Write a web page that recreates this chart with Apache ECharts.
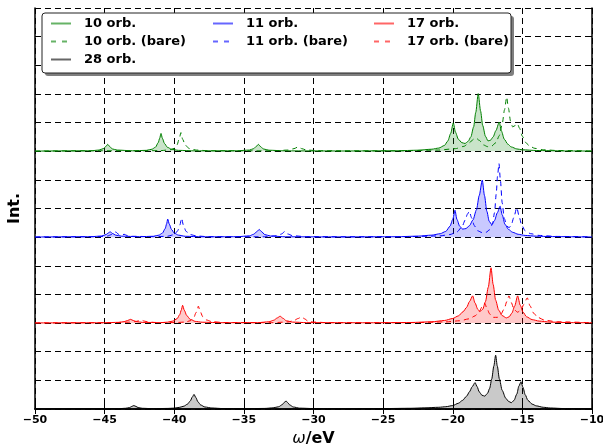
<!DOCTYPE html>
<html>
<head>
<meta charset="utf-8">
<script src="https://cdn.jsdelivr.net/npm/echarts@6/dist/echarts.min.js"></script>
<style>
  html, body { margin: 0; padding: 0; background: #fff; }
  #chart { width: 603px; height: 444px; }
</style>
</head>
<body>
<div id="chart"></div>
<script>
// Energy axis ticks (eV)
const xTicks = [-50, -45, -40, -35, -30, -25, -20, -15, -10];

// Vertical offsets of the stacked spectra
const offset10 = 9;
const offset11 = 6;
const offset17 = 3;
const offset28 = 0;

// 10-orbital model, [omega, intensity]
const orb10 = [
  [-50, 0.005], [-46, 0.015], [-45.4, 0.04], [-45.1, 0.09], [-44.9, 0.17], [-44.78, 0.24], [-44.65, 0.17],
  [-44.45, 0.08], [-44.1, 0.04], [-43, 0.015], [-42, 0.03], [-41.6, 0.07], [-41.35, 0.14], [-41.15, 0.3],
  [-41.05, 0.45], [-40.95, 0.62], [-40.85, 0.45], [-40.7, 0.27], [-40.5, 0.14], [-40.2, 0.07], [-39.7, 0.03],
  [-38.5, 0.012], [-35.5, 0.015], [-34.6, 0.04], [-34.3, 0.09], [-34.1, 0.17], [-33.96, 0.24], [-33.82, 0.17],
  [-33.6, 0.08], [-33.2, 0.035], [-32, 0.012], [-28, 0.008], [-24, 0.015], [-22.5, 0.035], [-21.5, 0.07],
  [-21, 0.11], [-20.6, 0.2], [-20.35, 0.36], [-20.15, 0.62], [-19.96, 0.99], [-19.8, 0.66], [-19.6, 0.42],
  [-19.35, 0.3], [-19.12, 0.27], [-18.9, 0.34], [-18.7, 0.5], [-18.5, 0.85], [-18.35, 1.35], [-18.17, 2.01],
  [-18.0, 1.4], [-17.85, 0.9], [-17.65, 0.52], [-17.47, 0.36], [-17.3, 0.38], [-17.1, 0.5], [-16.9, 0.72],
  [-16.66, 1.02], [-16.5, 0.7], [-16.3, 0.42], [-16.05, 0.25], [-15.8, 0.15], [-15.4, 0.08], [-15, 0.05],
  [-14, 0.025], [-12, 0.01], [-10, 0.005]
];
const orb10Bare = [
  [-50, 0.005], [-45.5, 0.015], [-43, 0.015], [-41, 0.02], [-40.3, 0.05], [-40.0, 0.1], [-39.8, 0.22],
  [-39.65, 0.42], [-39.52, 0.65], [-39.4, 0.42], [-39.2, 0.2], [-38.9, 0.09], [-38.4, 0.04], [-37.5, 0.015],
  [-33, 0.012], [-31.8, 0.04], [-31.4, 0.09], [-31.1, 0.15], [-30.85, 0.09], [-30.5, 0.04], [-29.5, 0.015],
  [-24, 0.012], [-21, 0.04], [-19.8, 0.09], [-19.2, 0.17], [-18.8, 0.3], [-18.5, 0.42], [-18.3, 0.45],
  [-18.1, 0.38], [-17.8, 0.22], [-17.5, 0.16], [-17.2, 0.18], [-16.9, 0.3], [-16.65, 0.55], [-16.45, 0.95],
  [-16.28, 1.45], [-16.13, 1.89], [-16.0, 1.5], [-15.85, 1.05], [-15.7, 0.85], [-15.5, 0.9], [-15.35, 0.95],
  [-15.2, 0.8], [-15.0, 0.52], [-14.75, 0.3], [-14.5, 0.18], [-14.1, 0.1], [-13.5, 0.05], [-12.5, 0.025],
  [-10, 0.008]
];

// 11-orbital model
const orb11 = [
  [-50, 0.005], [-46, 0.015], [-45.2, 0.04], [-44.9, 0.09], [-44.72, 0.15], [-44.6, 0.19], [-44.45, 0.13],
  [-44.2, 0.07], [-43.8, 0.035], [-42.5, 0.015], [-41.5, 0.03], [-41.1, 0.07], [-40.85, 0.14], [-40.65, 0.3],
  [-40.55, 0.46], [-40.47, 0.63], [-40.35, 0.45], [-40.2, 0.27], [-40.0, 0.14], [-39.7, 0.07], [-39.2, 0.03],
  [-38, 0.012], [-35.5, 0.015], [-34.6, 0.045], [-34.3, 0.1], [-34.05, 0.2], [-33.9, 0.27], [-33.75, 0.2],
  [-33.5, 0.09], [-33.1, 0.04], [-32, 0.012], [-28, 0.008], [-24, 0.015], [-22.5, 0.035], [-21.5, 0.07],
  [-20.9, 0.12], [-20.5, 0.2], [-20.2, 0.38], [-20.0, 0.62], [-19.84, 0.94], [-19.7, 0.62], [-19.5, 0.38],
  [-19.29, 0.28], [-19.05, 0.3], [-18.8, 0.4], [-18.55, 0.6], [-18.3, 0.95], [-18.1, 1.45], [-17.88, 1.99],
  [-17.72, 1.45], [-17.55, 0.9], [-17.38, 0.55], [-17.2, 0.44], [-17.0, 0.58], [-16.8, 0.85], [-16.6, 1.08],
  [-16.45, 0.78], [-16.25, 0.45], [-16.0, 0.27], [-15.7, 0.17], [-15.3, 0.1], [-14.8, 0.06], [-14, 0.035],
  [-13, 0.02], [-10, 0.005]
];
const orb11Bare = [
  [-50, 0.005], [-45.5, 0.015], [-44.8, 0.04], [-44.45, 0.1], [-44.2, 0.18], [-44.0, 0.1], [-43.8, 0.07],
  [-43.6, 0.1], [-43.4, 0.06], [-43.0, 0.03], [-41.5, 0.015], [-40.5, 0.03], [-40.0, 0.09], [-39.75, 0.22],
  [-39.6, 0.42], [-39.47, 0.66], [-39.35, 0.43], [-39.15, 0.2], [-38.85, 0.09], [-38.4, 0.04], [-37.5, 0.015],
  [-33.5, 0.012], [-32.6, 0.05], [-32.3, 0.11], [-32.05, 0.2], [-31.85, 0.11], [-31.5, 0.05], [-30.5, 0.015],
  [-24, 0.012], [-21, 0.04], [-20.2, 0.09], [-19.7, 0.18], [-19.35, 0.35], [-19.1, 0.6], [-18.95, 0.8],
  [-18.81, 0.9], [-18.65, 0.68], [-18.45, 0.4], [-18.2, 0.22], [-17.9, 0.16], [-17.6, 0.17], [-17.35, 0.26],
  [-17.15, 0.45], [-17.0, 0.85], [-16.88, 1.5], [-16.78, 2.15], [-16.68, 2.57], [-16.58, 2.0], [-16.45, 1.2],
  [-16.3, 0.65], [-16.1, 0.38], [-15.95, 0.33], [-15.8, 0.42], [-15.62, 0.68], [-15.4, 1.03], [-15.22, 0.7],
  [-15.05, 0.42], [-14.8, 0.22], [-14.4, 0.12], [-13.8, 0.06], [-12.5, 0.025], [-10, 0.008]
];

// 17-orbital model
const orb17 = [
  [-50, 0.005], [-45, 0.012], [-44, 0.025], [-43.6, 0.05], [-43.35, 0.09], [-43.13, 0.13], [-42.95, 0.09],
  [-42.7, 0.05], [-42.3, 0.025], [-41, 0.015], [-40.5, 0.03], [-40.1, 0.07], [-39.8, 0.15], [-39.6, 0.3],
  [-39.5, 0.45], [-39.4, 0.62], [-39.28, 0.45], [-39.1, 0.26], [-38.85, 0.13], [-38.5, 0.06], [-38, 0.03],
  [-36.5, 0.012], [-34, 0.015], [-33.2, 0.045], [-32.85, 0.1], [-32.6, 0.18], [-32.4, 0.24], [-32.2, 0.17],
  [-31.95, 0.08], [-31.5, 0.035], [-30.5, 0.015], [-26, 0.01], [-23, 0.02], [-21.5, 0.045], [-20.6, 0.09],
  [-20.0, 0.16], [-19.6, 0.25], [-19.25, 0.4], [-19.0, 0.55], [-18.8, 0.75], [-18.57, 0.95], [-18.4, 0.7],
  [-18.2, 0.48], [-18.05, 0.4], [-17.85, 0.48], [-17.65, 0.75], [-17.45, 1.25], [-17.25, 1.93], [-17.1, 1.35],
  [-16.92, 0.8], [-16.7, 0.45], [-16.45, 0.26], [-16.15, 0.18], [-15.95, 0.22], [-15.75, 0.35], [-15.55, 0.6],
  [-15.34, 0.95], [-15.15, 0.62], [-14.95, 0.38], [-14.7, 0.22], [-14.3, 0.12], [-13.8, 0.07], [-13, 0.035],
  [-11.5, 0.015], [-10, 0.008]
];
const orb17Bare = [
  [-50, 0.005], [-44.5, 0.012], [-43.3, 0.03], [-42.8, 0.05], [-42.55, 0.08], [-42.34, 0.1], [-42.15, 0.07],
  [-41.9, 0.04], [-41.3, 0.02], [-40, 0.015], [-39.2, 0.035], [-38.85, 0.08], [-38.6, 0.18], [-38.45, 0.35],
  [-38.35, 0.48], [-38.27, 0.59], [-38.15, 0.42], [-37.95, 0.22], [-37.7, 0.11], [-37.3, 0.05], [-36.5, 0.02],
  [-33, 0.012], [-31.8, 0.04], [-31.4, 0.09], [-31.1, 0.16], [-30.85, 0.22], [-30.65, 0.15], [-30.4, 0.07],
  [-30.0, 0.035], [-29, 0.015], [-23, 0.015], [-20.5, 0.04], [-19.5, 0.08], [-18.8, 0.15], [-18.4, 0.25],
  [-18.1, 0.4], [-17.88, 0.58], [-17.7, 0.69], [-17.55, 0.52], [-17.35, 0.32], [-17.1, 0.2], [-16.8, 0.2],
  [-16.55, 0.3], [-16.3, 0.5], [-16.12, 0.75], [-15.96, 0.95], [-15.8, 0.72], [-15.6, 0.48], [-15.35, 0.38],
  [-15.1, 0.45], [-14.9, 0.65], [-14.65, 0.88], [-14.45, 0.6], [-14.2, 0.35], [-13.9, 0.2], [-13.4, 0.1],
  [-12.5, 0.045], [-10, 0.012]
];

// 28-orbital model
const orb28 = [
  [-50, 0.005], [-44, 0.01], [-43.5, 0.025], [-43.2, 0.05], [-43.05, 0.09], [-42.9, 0.12], [-42.75, 0.09],
  [-42.6, 0.05], [-42.3, 0.025], [-41.5, 0.01], [-40.5, 0.02], [-40, 0.03], [-39.6, 0.06], [-39.3, 0.1],
  [-39.05, 0.17], [-38.85, 0.28], [-38.7, 0.42], [-38.58, 0.51], [-38.45, 0.4], [-38.3, 0.25], [-38.1, 0.14],
  [-37.8, 0.07], [-37.3, 0.035], [-36.5, 0.015], [-35, 0.01], [-33.5, 0.02], [-32.9, 0.04], [-32.5, 0.08],
  [-32.25, 0.15], [-32.1, 0.23], [-31.97, 0.28], [-31.85, 0.22], [-31.7, 0.14], [-31.45, 0.07], [-31, 0.03],
  [-30, 0.015], [-28, 0.01], [-25, 0.015], [-23, 0.025], [-22, 0.04], [-21, 0.06], [-20.5, 0.08],
  [-20, 0.12], [-19.6, 0.2], [-19.3, 0.3], [-19, 0.45], [-18.8, 0.6], [-18.6, 0.78], [-18.4, 0.92],
  [-18.25, 0.78], [-18.1, 0.6], [-17.9, 0.48], [-17.7, 0.45], [-17.5, 0.55], [-17.35, 0.72], [-17.2, 1.05],
  [-17.05, 1.5], [-16.92, 1.88], [-16.8, 1.5], [-16.65, 1.05], [-16.45, 0.65], [-16.2, 0.38], [-16.0, 0.27],
  [-15.8, 0.22], [-15.6, 0.3], [-15.4, 0.52], [-15.25, 0.8], [-15.1, 0.95], [-14.95, 0.75], [-14.8, 0.5],
  [-14.6, 0.3], [-14.3, 0.17], [-14, 0.11], [-13.5, 0.06], [-13, 0.035], [-12, 0.015], [-10, 0.005]
];

function lift(points, base) {
  return points.map(function (p) { return [p[0], p[1] + base]; });
}

function filled(name, points, base, color, fill) {
  return {
    name: name, type: 'line', data: lift(points, base), symbol: 'none', showSymbol: false,
    smooth: 0.25, smoothMonotone: 'x', z: 3,
    lineStyle: { color: color, width: 1 },
    itemStyle: { color: color },
    areaStyle: { color: fill, origin: base }
  };
}
function bare(name, points, base, color) {
  return {
    name: name, type: 'line', data: lift(points, base), symbol: 'none', showSymbol: false,
    smooth: 0.25, smoothMonotone: 'x', z: 4,
    lineStyle: { color: color, width: 1, type: [5, 4] },
    itemStyle: { color: color }
  };
}

const fontFam = '"DejaVu Sans", sans-serif';
const legendText = { color: '#000', fontFamily: fontFam, fontWeight: 'bold', fontSize: 13, padding: [0, 0, 0, 8] };
function legendAt(left, names) {
  return {
    data: names.map(function (n) {
      const dashed = n.indexOf('bare') >= 0;
      return {
        name: n,
        itemStyle: { opacity: 0, borderWidth: 0 },
        lineStyle: { opacity: 0.6, width: 2, type: dashed ? [5, 6] : 'solid' }
      };
    }),
    orient: 'vertical', left: left, top: 17, padding: 0,
    itemWidth: 20, itemHeight: 14, itemGap: 5, z: 20,
    textStyle: legendText, selectedMode: false
  };
}

const chart = echarts.init(document.getElementById('chart'), null, { renderer: 'canvas' });
chart.setOption({
  animation: false,
  backgroundColor: '#fff',
  grid: { left: 35, right: 11, top: 8, bottom: 35, outerBoundsMode: 'none', containLabel: false },
  xAxis: [
    {
      type: 'value', min: xTicks[0], max: xTicks[xTicks.length - 1], interval: 5,
      position: 'bottom',
      name: '{i|ω}{b|/eV}', nameLocation: 'middle', nameGap: 15,
      nameTextStyle: {
        rich: {
          i: { fontFamily: fontFam, fontStyle: 'italic', fontSize: 16, color: '#000' },
          b: { fontFamily: fontFam, fontWeight: 'bold', fontSize: 16, color: '#000' }
        }
      },
      axisLine: { show: true, lineStyle: { color: '#000', width: 1.5 } },
      axisTick: { show: true, inside: true, length: 5, lineStyle: { color: '#000', width: 1 } },
      axisLabel: {
        color: '#000', fontFamily: fontFam, fontWeight: 'bold', fontSize: 11, margin: 6,
        formatter: function (v) { return String(v).replace('-', '\u2212'); }
      },
      splitLine: { show: true, lineStyle: { color: '#000', width: 1, type: [6, 4] } }
    },
    {
      type: 'value', min: xTicks[0], max: xTicks[xTicks.length - 1], interval: 5,
      position: 'top',
      axisLine: { show: true, lineStyle: { color: '#000', width: 1.5 } },
      axisTick: { show: true, inside: true, length: 5, lineStyle: { color: '#000', width: 1 } },
      axisLabel: { show: false },
      splitLine: { show: false }
    }
  ],
  yAxis: [
    {
      type: 'value', min: 0, max: 14, interval: 1, position: 'left',
      name: 'Int.', nameLocation: 'middle', nameGap: 12, nameRotate: 90,
      nameTextStyle: { fontFamily: fontFam, fontWeight: 'bold', fontSize: 16, color: '#000' },
      axisLine: { show: true, lineStyle: { color: '#000', width: 1.5 } },
      axisTick: { show: true, inside: true, length: 5, lineStyle: { color: '#000', width: 1 } },
      axisLabel: { show: false },
      splitLine: { show: true, lineStyle: { color: '#000', width: 1, type: [6, 4] } }
    },
    {
      type: 'value', min: 0, max: 14, interval: 1, position: 'right',
      axisLine: { show: true, lineStyle: { color: '#000', width: 1.5 } },
      axisTick: { show: true, inside: true, length: 5, lineStyle: { color: '#000', width: 1 } },
      axisLabel: { show: false },
      splitLine: { show: false }
    }
  ],
  legend: [
    legendAt(50, ['10 orb.', '10 orb. (bare)', '28 orb.']),
    legendAt(212, ['11 orb.', '11 orb. (bare)']),
    legendAt(373, ['17 orb.', '17 orb. (bare)'])
  ],
  graphic: [
    { type: 'rect', z: 10, shape: { x: 45, y: 16, width: 469, height: 60, r: 3 }, style: { fill: '#7f7f7f' } },
    { type: 'rect', z: 11, shape: { x: 42, y: 13, width: 469, height: 60, r: 3 }, style: { fill: '#fff', stroke: '#222', lineWidth: 1 } }
  ],
  series: [
    filled('10 orb.', orb10, offset10, '#008000', 'rgba(0,128,0,0.3)'),
    bare('10 orb. (bare)', orb10Bare, offset10, '#008000'),
    filled('11 orb.', orb11, offset11, '#0000ff', 'rgba(0,0,255,0.3)'),
    bare('11 orb. (bare)', orb11Bare, offset11, '#0000ff'),
    filled('17 orb.', orb17, offset17, '#ff0000', 'rgba(255,0,0,0.3)'),
    bare('17 orb. (bare)', orb17Bare, offset17, '#ff0000'),
    filled('28 orb.', orb28, offset28, '#000000', 'rgba(0,0,0,0.3)')
  ]
});
</script>
</body>
</html>
